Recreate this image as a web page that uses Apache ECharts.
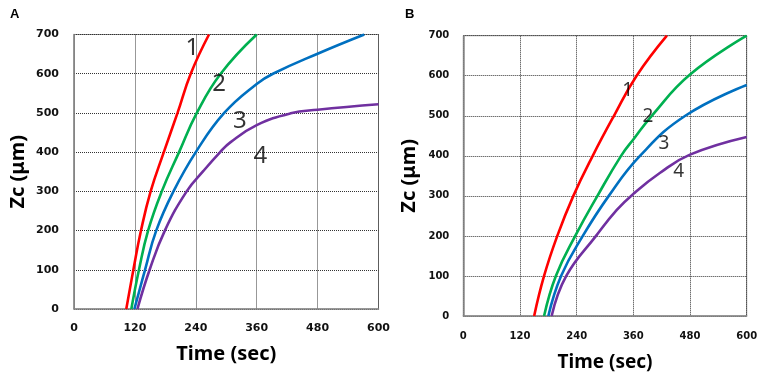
<!DOCTYPE html>
<html>
<head>
<meta charset="utf-8">
<script src="https://cdn.jsdelivr.net/npm/echarts@6/dist/echarts.min.js"></script>
<style>
  html, body { margin: 0; padding: 0; background: #fff; }
  #chart { width: 765px; height: 379px; }
</style>
</head>
<body>
<div id="chart"></div>
<script>
// time (sec) ticks and Zc ticks
const timeTicks = [0, 120, 240, 360, 480, 600];
const zcTicks = [0, 100, 200, 300, 400, 500, 600, 700];

// panel A curves, [time, Zc]
const curveA1 = [[103,0],[117,100],[132,200],[151,300],[177,400],[204,500],[230,600],[266,700]];
const curveA2 = [[113,0],[128,100],[146,200],[173,300],[207,400],[242,500],[289,600],[360,700]];
const curveA3 = [[119,0],[140,100],[162,200],[196,300],[240,400],[296,500],[360,574],[392,600],[480,651],[572,700]];
const curveA4 = [[125,0],[149,100],[179,200],[222,300],[255,352],[288,400],[308,425],[360,469],[427,499],[480,508],[600,522]];

// panel B curves
const curveB1 = [[150,0],[171,100],[199,200],[233,300],[274,400],[319,500],[367,600],[431,700]];
const curveB2 = [[171,0],[196,100],[237,200],[284,300],[334,400],[362,444],[399,500],[480,603],[600,700]];
const curveB3 = [[180,0],[207,100],[253,200],[308,300],[374,400],[470,500],[600,577]];
const curveB4 = [[187,0],[218,100],[281,200],[325,265],[360,305],[416,357],[480,403],[600,447]];

// curve number labels
const curveNames = ['1', '2', '3', '4'];
const labelTimeA = [233, 286, 327, 367];
const labelZcA = [665, 573, 480, 391];
const labelTimeB = [348, 391, 425, 456];
const labelZcB = [564, 499, 430, 361];

const colors = ['#ff0000', '#00b050', '#0070c0', '#7030a0'];

var myChart = echarts.init(document.getElementById('chart'));

const gridLine = { show: true, lineStyle: { color: '#333', type: [1, 1], width: 1 } };

function xAxisFor(gridIndex, fontSize, margin, gap) {
  return {
    type: 'value', gridIndex: gridIndex, min: 0, max: 600, interval: 120,
    name: 'Time (sec)', nameLocation: 'middle', nameGap: gap,
    nameTextStyle: { fontFamily: 'Noto Sans', fontWeight: 'bold', fontSize: gridIndex ? 19 : 20, color: '#000' },
    axisLine: { lineStyle: { color: '#888', width: 1.5 } },
    axisTick: { show: false },
    axisLabel: { margin: margin, fontFamily: 'DejaVu Sans', fontWeight: 'bold', fontSize: fontSize, color: '#111' },
    splitLine: gridLine
  };
}
function yAxisFor(gridIndex, fontSize, margin, gap) {
  return {
    type: 'value', gridIndex: gridIndex, min: 0, max: 700, interval: 100,
    name: 'Zc (μm)', nameLocation: 'middle', nameGap: gap,
    nameTextStyle: { fontFamily: 'Noto Sans', fontWeight: 'bold', fontSize: 20, color: '#000' },
    axisLine: { show: true, lineStyle: { color: '#888', width: 1.5 } },
    axisTick: { show: false },
    axisLabel: { margin: margin, fontFamily: 'DejaVu Sans', fontWeight: 'bold', fontSize: fontSize, color: '#111' },
    splitLine: gridLine
  };
}

function curve(data, idx, axis) {
  return {
    type: 'line', data: data, xAxisIndex: axis, yAxisIndex: axis,
    smooth: 0.45, symbol: 'none',
    lineStyle: { color: colors[idx], width: 2.6 }, z: 3
  };
}
function labels(ts, zs, axis, size) {
  return {
    type: 'scatter', xAxisIndex: axis, yAxisIndex: axis, symbolSize: 0, z: 5,
    data: curveNames.map(function (n, i) { return { name: n, value: [ts[i], zs[i]] }; }),
    label: { show: true, position: 'inside', formatter: '{b}', fontFamily: 'Noto Sans', fontSize: size, color: '#000' }
  };
}

var option = {
  backgroundColor: '#fff',
  animation: false,
  title: [
    { text: 'A', left: 5, top: 3, textStyle: { fontFamily: 'Liberation Sans', fontWeight: 'bold', fontSize: 13, color: '#000' } },
    { text: 'B', left: 400, top: 3, textStyle: { fontFamily: 'Liberation Sans', fontWeight: 'bold', fontSize: 13, color: '#000' } }
  ],
  grid: [
    { left: 74, top: 34.5, width: 304.5, height: 274.5, show: true, borderColor: '#888', borderWidth: 1, backgroundColor: 'transparent' },
    { left: 463.3, top: 35.7, width: 283.4, height: 280.3, show: true, borderColor: '#888', borderWidth: 1, backgroundColor: 'transparent' }
  ],
  xAxis: [xAxisFor(0, 11, 14, 35), xAxisFor(1, 10, 15, 37)],
  yAxis: [yAxisFor(0, 11, 15, 46), yAxisFor(1, 10, 14, 44)],
  series: [
    curve(curveA1, 0, 0), curve(curveA2, 1, 0), curve(curveA3, 2, 0), curve(curveA4, 3, 0),
    curve(curveB1, 0, 1), curve(curveB2, 1, 1), curve(curveB3, 2, 1), curve(curveB4, 3, 1),
    labels(labelTimeA, labelZcA, 0, 24),
    labels(labelTimeB, labelZcB, 1, 19)
  ]
};
myChart.setOption(option);
</script>
</body>
</html>
